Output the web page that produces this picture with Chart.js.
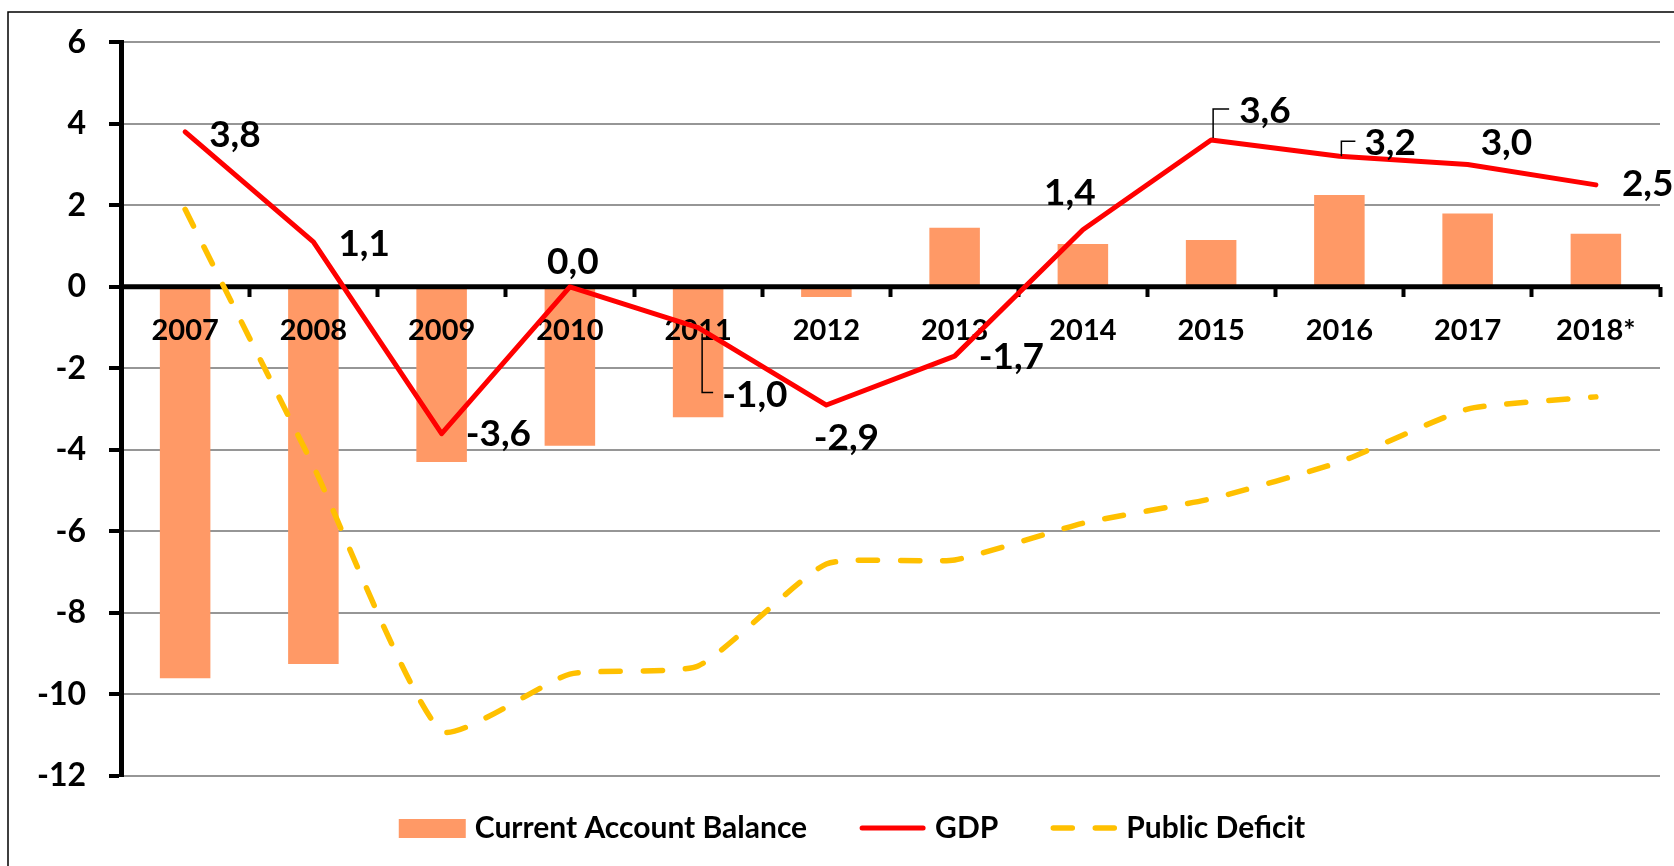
<!DOCTYPE html>
<html>
<head>
<meta charset="utf-8">
<title>Current Account Balance, GDP and Public Deficit</title>
<script src="https://cdn.jsdelivr.net/npm/chart.js@4.4.1/dist/chart.umd.min.js"></script>
<style>
  html, body { margin: 0; padding: 0; background: #fff; }
  #wrap { width: 1674px; height: 866px; }
</style>
</head>
<body>
<div id="wrap"><canvas id="chart" width="1674" height="866"></canvas></div>
<script>
// data
const years = ['2007', '2008', '2009', '2010', '2011', '2012', '2013', '2014', '2015', '2016', '2017', '2018*'];
const currentAccount = [-9.6, -9.25, -4.3, -3.9, -3.2, -0.25, 1.45, 1.05, 1.15, 2.25, 1.8, 1.3];
const gdp = [3.8, 1.1, -3.6, 0.0, -1.0, -2.9, -1.7, 1.4, 3.6, 3.2, 3.0, 2.5];
const publicDeficit = [1.9, -4.4, -10.9, -9.5, -9.3, -6.8, -6.7, -5.8, -5.2, -4.3, -3.0, -2.7];
const yTicks = [-12, -10, -8, -6, -4, -2, 0, 2, 4, 6];

// where each GDP label sits relative to its point: [dx, dy, align]
const labelOffsets = [
  [24, 3, 'left'], [25, 2, 'left'], [24, 1, 'left'], [3, -25, 'center'],
  [24, 67, 'left'], [20, 33, 'center'], [24, 1, 'left'], [-13, -37, 'center'],
  [28, -29, 'left'], [25, -13, 'left'], [13, -21, 'left'], [26, -1, 'left']
];
// small leader lines from the point to the label (index -> polyline offsets)
const leaders = {
  4: [[4, 6], [4, 65], [15, 65]],
  8: [[2, -2], [2, -31], [18, -31]],
  9: [[2, 0], [2, -15], [16, -15]]
};

const FONT = 'Lato, "DejaVu Sans", sans-serif';
const WEIGHT = 'bold';
const BAR_COLOR = '#FF9966';
const GDP_COLOR = '#FF0000';
const DEFICIT_COLOR = '#FFC000';

// frame round the chart (only left and top edges are visible)
const framePlugin = {
  id: 'frame',
  beforeDraw(chart) {
    const ctx = chart.ctx;
    ctx.save();
    ctx.fillStyle = '#fff';
    ctx.fillRect(0, 0, chart.width, chart.height);
    ctx.strokeStyle = '#000';
    ctx.lineWidth = 1.5;
    ctx.beginPath();
    ctx.moveTo(8, chart.height);
    ctx.lineTo(8, 12);
    ctx.lineTo(chart.width, 12);
    ctx.stroke();
    ctx.restore();
  }
};

// black zero line and the year labels, drawn over the bars but under the lines
const zeroLinePlugin = {
  id: 'zeroLine',
  afterDatasetDraw(chart, args) {
    if (args.index !== 0) return;
    const ctx = chart.ctx;
    const xs = chart.scales.x;
    const y0 = chart.scales.y.getPixelForValue(0);
    ctx.save();
    ctx.strokeStyle = '#000';
    ctx.lineWidth = 5;
    ctx.beginPath();
    ctx.moveTo(chart.chartArea.left, y0);
    ctx.lineTo(chart.chartArea.right, y0);
    ctx.stroke();

    ctx.fillStyle = '#000';
    ctx.font = WEIGHT + ' 29px ' + FONT;
    ctx.textAlign = 'center';
    ctx.textBaseline = 'middle';
    xs.ticks.forEach((t, i) => {
      ctx.fillText(xs.getLabelForValue(t.value), xs.getPixelForTick(i), y0 + 44);
    });
    ctx.restore();
  }
};

// value labels on the GDP line
const gdpLabelPlugin = {
  id: 'gdpLabels',
  afterDatasetsDraw(chart) {
    const ctx = chart.ctx;
    const meta = chart.getDatasetMeta(1);
    ctx.save();
    ctx.font = WEIGHT + ' 37px ' + FONT;
    ctx.fillStyle = '#000';
    ctx.textBaseline = 'middle';
    meta.data.forEach((pt, i) => {
      const off = labelOffsets[i];
      const txt = gdp[i].toFixed(1).replace('.', ',');
      ctx.textAlign = off[2];
      ctx.fillText(txt, pt.x + off[0], pt.y + off[1]);
      if (leaders[i]) {
        ctx.strokeStyle = '#000';
        ctx.lineWidth = 1.5;
        ctx.beginPath();
        leaders[i].forEach((p, k) => {
          if (k === 0) ctx.moveTo(pt.x + p[0], pt.y + p[1]);
          else ctx.lineTo(pt.x + p[0], pt.y + p[1]);
        });
        ctx.stroke();
      }
    });
    ctx.restore();
  }
};

// legend at the bottom, drawn by hand so the swatches look like the original
const legendPlugin = {
  id: 'bottomLegend',
  afterDraw(chart) {
    const ctx = chart.ctx;
    const ds = chart.data.datasets;
    const yMid = 828;
    const swatchW = 67, textGap = 9, itemGap = 52;
    ctx.save();
    ctx.font = WEIGHT + ' 30px ' + FONT;
    const widths = ds.map(d => ctx.measureText(d.label).width);
    let total = 0;
    widths.forEach((w, i) => { total += swatchW + textGap + w + (i < widths.length - 1 ? itemGap : 0); });
    let x = 852 - total / 2;
    ds.forEach((d, i) => {
      if (d.type === 'bar') {
        ctx.fillStyle = d.backgroundColor;
        ctx.fillRect(x, yMid - 9, swatchW, 19);
      } else {
        ctx.strokeStyle = d.borderColor;
        ctx.lineWidth = d.borderWidth;
        ctx.lineCap = 'round';
        ctx.setLineDash(d.borderDash || []);
        ctx.beginPath();
        ctx.moveTo(x + 3, yMid);
        ctx.lineTo(x + swatchW - 3, yMid);
        ctx.stroke();
        ctx.setLineDash([]);
      }
      ctx.fillStyle = '#000';
      ctx.textAlign = 'left';
      ctx.textBaseline = 'middle';
      ctx.fillText(d.label, x + swatchW + textGap, yMid);
      x += swatchW + textGap + widths[i] + itemGap;
    });
    ctx.restore();
  }
};

function drawChart() {
  const ctx = document.getElementById('chart').getContext('2d');
  new Chart(ctx, {
    data: {
      labels: years,
      datasets: [
        {
          type: 'bar',
          label: 'Current Account Balance',
          data: currentAccount,
          backgroundColor: BAR_COLOR,
          barPercentage: 0.394,
          categoryPercentage: 1,
          order: 3
        },
        {
          type: 'line',
          label: 'GDP',
          data: gdp,
          borderColor: GDP_COLOR,
          backgroundColor: GDP_COLOR,
          borderWidth: 5,
          borderCapStyle: 'round',
          borderJoinStyle: 'round',
          pointRadius: 0,
          tension: 0,
          order: 1
        },
        {
          type: 'line',
          label: 'Public Deficit',
          data: publicDeficit,
          borderColor: DEFICIT_COLOR,
          backgroundColor: DEFICIT_COLOR,
          borderWidth: 5.5,
          borderDash: [19, 23],
          borderCapStyle: 'round',
          pointRadius: 0,
          tension: 0.17,
          order: 2
        }
      ]
    },
    options: {
      responsive: false,
      devicePixelRatio: 1,
      animation: false,
      layout: { padding: { top: 42, bottom: 90, left: 0, right: 14 } },
      plugins: {
        legend: { display: false },
        tooltip: { enabled: false }
      },
      scales: {
        x: {
          position: { y: 0 },
          offset: true,
          border: { display: false },
          grid: {
            offset: true,
            drawOnChartArea: false,
            drawTicks: true,
            tickLength: 10,
            tickWidth: 4,
            tickColor: '#000',
            color: '#000'
          },
          // the year labels are painted by zeroLinePlugin so they sit above the bars
          ticks: { display: false, autoSkip: false, maxRotation: 0 }
        },
        y: {
          min: yTicks[0],
          max: yTicks[yTicks.length - 1],
          afterBuildTicks: s => { s.ticks = yTicks.map(v => ({ value: v })); },
          afterFit: s => { s.width = 121; },
          border: { color: '#000', width: 5 },
          grid: {
            color: c => (c.tick && c.tick.value === 0) ? 'rgba(0,0,0,0)' : '#969696',
            lineWidth: 2,
            tickColor: '#000',
            tickWidth: 4,
            tickLength: 12
          },
          ticks: {
            color: '#000',
            font: { family: FONT, size: 32, weight: WEIGHT },
            padding: 23
          }
        }
      }
    },
    plugins: [framePlugin, zeroLinePlugin, gdpLabelPlugin, legendPlugin]
  });
}

// make sure the font is ready before the canvas is painted
document.fonts.load('bold 29px Lato').then(drawChart, drawChart);
</script>
</body>
</html>
